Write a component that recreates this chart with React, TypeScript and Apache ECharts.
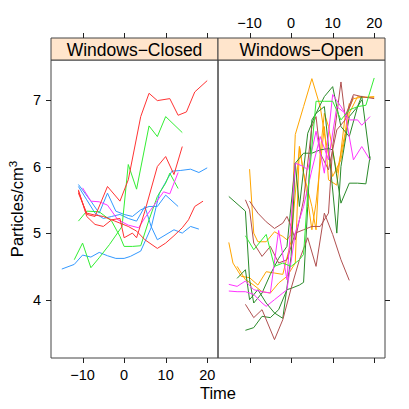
import React, { useEffect, useRef } from "react";
import * as echarts from "echarts";

// ---- tick labels / categories ----
const xTicks = [-10, 0, 10, 20];
const yTicks = [4, 5, 6, 7];
const panels = ["Windows\u2212Closed", "Windows\u2212Open"];

// ---- Windows-Closed panel series: [time, particles] ----
const closedBlue1: [number, number][] = [[-15,4.46],[-12,4.53],[-10,4.67],[-8,4.64],[-6,4.71],[-4,4.66],[-2,4.62],[0,4.62],[1.5,4.65],[4,4.73],[6.5,5.08],[8.5,5.6],[11.5,5.93],[13.5,5.94],[16,5.96],[18,5.91],[20,5.98]];
const closedBlue2: [number, number][] = [[-11,5.73],[-8,5.48],[-6,5.3],[-4,5.6],[-2,5.33],[0,5.28],[2,5.25],[4,5.35],[6,5.4],[8,5.4],[10,5.57],[13,5.4]];
const closedBlue3: [number, number][] = [[-11,5.7],[-9,5.5],[-7,5.3],[-5,5.22],[-3,5.25],[-1,5.28],[1,5.22],[3,5.18],[5,5.4],[6.5,5.1],[8,4.9],[12,5.05],[14,5.0],[16,5.1],[18,5.06]];
const closedGreen1: [number, number][] = [[-11,5.18],[-9,5.33],[-6,5.32],[-3,5.18],[-1,4.95],[0,4.8],[2,4.8],[4,4.81],[6,5.2],[8,5.55],[10,5.75],[11,5.9],[13,5.67]];
const closedGreen2: [number, number][] = [[-12,4.6],[-10,4.85],[-8,4.48],[-6,4.63],[-3.5,4.83],[-0.5,5.1],[1,6.03],[3,5.66],[6,6.61],[8,6.45],[10,6.75],[14,6.51]];
const closedMagenta1: [number, number][] = [[-10,5.68],[-8,5.48],[-6,5.47],[-4,5.42],[-1.5,5.2],[1,5.12],[3.5,5.08],[5,5.23],[7,5.4],[9.5,5.62],[11,5.59],[13,5.91]];
const closedRed1: [number, number][] = [[-11,5.63],[-9,5.28],[-7,5.25],[-4,5.7],[-1,5.48],[1,5.8],[4,6.75],[6,7.1],[8,6.99],[11,7.02],[13,6.77],[15,6.82],[17,7.12],[20,7.29]];
const closedRed2: [number, number][] = [[-11,5.65],[-9,5.25],[-7,5.13],[-5,5.1],[-3,5.2],[-1,5.22],[0,4.93],[2,5.0],[3,4.93],[5,5.33],[8,6.0],[10,6.15],[12,5.88],[14,6.3]];
const closedRed3: [number, number][] = [[-11,5.6],[-9,5.3],[-7,5.27],[-5,5.25],[-3,5.2],[-1,5.15],[1,5.1],[3,5.03],[5,4.9],[8,4.77],[10,4.85],[12,4.96],[14,5.08],[15.5,5.2],[17,5.4],[19,5.48]];

// ---- Windows-Open panel series ----
const openOrange1: [number, number][] = [[-15,4.86],[-14,4.55],[-12,4.35],[-10,4.33],[-8,4.22],[-6,4.42],[-4,4.4],[-2,4.38],[0,4.88],[2,6.3],[4,5.5],[5,5.05],[6,5.45],[8,6.6],[9,5.8],[11,5.72],[13,6.75],[15,7.02],[17,7.04],[20,7.04]];
const openOrange2: [number, number][] = [[-10,5.96],[-9,5.0],[-8,4.87],[-6,4.87],[-4,5.02],[-2,4.95],[-1,4.9],[0,4.98],[1,6.48],[3,6.9],[5,7.32],[7,6.9],[8,6.5],[10,5.85],[12,6.1],[14,6.8],[16,7.05],[18,7.04],[20,7.05]];
const openOrange3: [number, number][] = [[-13,4.5],[-11,4.3],[-9,4.22],[-7,4.12],[-5,4.1],[-3,4.25],[-1,4.35],[1,4.55],[2,6.3],[3,5.9],[4,5.65],[5,5.4],[6,5.05],[7,6.2],[8,6.8],[9,6.6],[11,5.9],[13,6.5],[14,6.95]];
const openDarkGreen1: [number, number][] = [[-15,5.55],[-11,5.33],[-10,4.3],[-9,3.95],[-7,4.1],[-5,4.38],[-3,4.62],[-1,4.8],[1,6.05],[3,6.2],[5,6.2],[7,6.25],[9,6.27],[10,6.25],[12,5.45],[14,5.75],[16,5.75],[18,5.74],[19,6.15]];
const openDarkGreen2: [number, number][] = [[-11,3.54],[-9,3.58],[-7,3.75],[-5,3.73],[-3,3.85],[-1,4.15],[0,4.17],[2,4.22],[3,4.26],[4,5.4],[5,6.7],[6,6.8],[8,7.05],[10,7.2],[12,6.6],[14,6.45],[16,6.9],[17,7.06],[19,6.1]];
const openDarkGreen3: [number, number][] = [[-13,4.32],[-11,4.45],[-10,4.0],[-8,4.15],[-6,3.95],[-4,3.8],[-2,3.72],[0,4.65],[1,6.05],[2,5.4],[4,6.5],[6,6.8],[8,6.9],[9,6.3],[11,5.0],[12,6.0],[14,6.75],[16,6.9],[17,7.0]];
const openBrown1: [number, number][] = [[-11,5.5],[-10,5.35],[-9,4.85],[-7,4.65],[-5,4.8],[-3,4.55],[-1,4.6],[1,5.0],[3,5.05],[5,5.1],[7,5.1],[9,5.3],[10,6.3],[12,7.27],[13,6.75],[15,7.08],[17,7.05],[20,7.02]];
const openBrown2: [number, number][] = [[-10,5.48],[-8,5.3],[-6,5.17],[-4,5.07],[-2,5.15],[-1,5.25],[0,5.1],[1,4.9],[3,5.5],[5,6.6],[6,6.75],[7,6.2],[9,5.95],[11,6.55],[13,6.7],[15,7.05]];
const openBrown3: [number, number][] = [[-11,3.93],[-9,3.73],[-7,3.85],[-4,3.4],[-2,3.7],[0,4.17],[2,4.6],[4,4.93],[6,4.5],[8,5.3],[10,4.98],[12,4.6],[14,4.29]];
const openMagenta1: [number, number][] = [[-15,4.23],[-13,4.2],[-11,4.28],[-9,4.15],[-7,4.12],[-5,4.1],[-3,5.04],[-1,4.3],[1,6.05],[3,6.0],[4,5.95],[6,6.53],[8,5.9],[10,7.08],[12,6.9],[14,6.7],[16,6.7],[17,6.62],[19,6.75]];
const openMagenta2: [number, number][] = [[-15,4.13],[-13,4.12],[-11,4.12],[-9,4.08],[-7,3.95],[-6,3.9],[-4,4.0],[-2,4.1],[-1,4.15],[1,5.0],[3,5.4],[5,5.95],[7,6.45],[9,6.1],[11,6.9],[13,6.8],[15,6.1],[17,6.3],[19,6.1]];
const openGreen1: [number, number][] = [[-11,4.96],[-9,4.75],[-6,4.98],[-4,4.5],[-2,4.55],[0,4.5],[2,4.6],[3,4.68],[4,5.6],[6,6.98],[8,6.98],[10,6.98],[12,6.7],[14,6.85],[16,6.9],[18,6.92],[20,7.33]];

const C = {
  blue: "#3399FF",
  red: "#FF3333",
  green: "#33EE33",
  magenta: "#FF33FF",
  orange: "#FFA500",
  darkgreen: "#2A8A2A",
  brown: "#B05050",
};

const closedSeries: [ [number, number][], string ][] = [
  [closedBlue1, C.blue], [closedBlue2, C.blue], [closedBlue3, C.blue],
  [closedGreen1, C.green], [closedGreen2, C.green],
  [closedMagenta1, C.magenta],
  [closedRed1, C.red], [closedRed2, C.red], [closedRed3, C.red],
];
const openSeries: [ [number, number][], string ][] = [
  [openOrange1, C.orange], [openOrange2, C.orange], [openOrange3, C.orange],
  [openDarkGreen1, C.darkgreen], [openDarkGreen2, C.darkgreen], [openDarkGreen3, C.darkgreen],
  [openBrown1, C.brown], [openBrown2, C.brown], [openBrown3, C.brown],
  [openMagenta1, C.magenta], [openMagenta2, C.magenta],
  [openGreen1, C.green],
];

const FONT = "'Liberation Sans', Arial, Helvetica, sans-serif";
const X_MIN = -17.6, X_MAX = 22.6, Y_MIN = 3.124, Y_MAX = 7.6;
const PL = 51, PT = 60, PW = 167, PH = 298, STRIP = 22;
const BORDER = "#444";
const TICK = "#222";
const TICK_LEN = 5;

const fmtNum = (v: number) => String(v).replace("-", "\u2212");
const crisp = (v: number) => Math.round(v) + 0.5;

// tick-mark series drawn through the axes' own scales
type TickSide = "bottom" | "top" | "left" | "right";
function tickSeries(xIdx: number, yIdx: number, side: TickSide, values: number[]) {
  const data = values.map((v) =>
    side === "bottom" ? [v, Y_MIN] : side === "top" ? [v, Y_MAX] : side === "left" ? [X_MIN, v] : [X_MAX, v]
  );
  return {
    type: "custom",
    xAxisIndex: xIdx,
    yAxisIndex: yIdx,
    clip: false,
    silent: true,
    z: 10,
    data,
    renderItem: (_p: any, api: any) => {
      const pt = api.coord([api.value(0), api.value(1)]);
      let shape: any;
      if (side === "bottom") {
        const x = crisp(pt[0]);
        shape = { x1: x, y1: pt[1], x2: x, y2: pt[1] + TICK_LEN };
      } else if (side === "top") {
        const x = crisp(pt[0]);
        const y0 = pt[1] - STRIP;
        shape = { x1: x, y1: y0, x2: x, y2: y0 - TICK_LEN };
      } else if (side === "left") {
        const y = crisp(pt[1]);
        shape = { x1: pt[0], y1: y, x2: pt[0] - TICK_LEN, y2: y };
      } else {
        const y = crisp(pt[1]);
        shape = { x1: pt[0], y1: y, x2: pt[0] + TICK_LEN, y2: y };
      }
      return { type: "line", shape, style: { stroke: TICK, lineWidth: 1 } };
    },
  };
}

export default function App() {
  const ref = useRef<HTMLDivElement>(null);
  useEffect(() => {
    if (!ref.current) return;
    const chart = echarts.init(ref.current, undefined, { renderer: "svg" });
    const labelStyle = { color: "#000", fontSize: 14.5, fontFamily: FONT };
    const xAx = (grid: number, pos: "top" | "bottom", labels: boolean, offset: number) => ({
      type: "value", gridIndex: grid, position: pos, offset, min: X_MIN, max: X_MAX,
      axisLine: { show: false, onZero: false }, splitLine: { show: false },
      axisTick: { show: false },
      axisLabel: labels
        ? { show: true, customValues: xTicks, formatter: (v: number) => fmtNum(v), margin: pos === "top" ? 8 : 9, ...labelStyle }
        : { show: false },
    });
    const series: any[] = [];
    closedSeries.forEach(([d, c]) => series.push({ type: "line", xAxisIndex: 0, yAxisIndex: 0, data: d, showSymbol: false, symbol: "none", lineStyle: { color: c, width: 1 } }));
    openSeries.forEach(([d, c]) => series.push({ type: "line", xAxisIndex: 2, yAxisIndex: 1, data: d, showSymbol: false, symbol: "none", lineStyle: { color: c, width: 1 } }));
    series.push(tickSeries(0, 0, "bottom", xTicks));
    series.push(tickSeries(0, 0, "top", xTicks));
    series.push(tickSeries(0, 0, "left", yTicks));
    series.push(tickSeries(2, 1, "bottom", xTicks));
    series.push(tickSeries(2, 1, "top", xTicks));
    series.push(tickSeries(2, 1, "right", yTicks));
    const stripGraphics: any[] = panels.map((p, i) => ({
      type: "group",
      children: [
        { type: "rect", shape: { x: PL + i * PW, y: PT - STRIP, width: PW, height: STRIP }, style: { fill: "#FFE5CC", stroke: BORDER, lineWidth: 1 } },
        { type: "text", x: PL + i * PW + PW / 2, y: PT - STRIP / 2 + 1, style: { text: p, fill: "#000", fontSize: 17.5, fontFamily: FONT, align: "center", verticalAlign: "middle" } },
      ],
    }));
    chart.setOption({
      animation: false,
      grid: [
        { left: PL, top: PT, width: PW, height: PH, show: true, borderColor: BORDER },
        { left: PL + PW, top: PT, width: PW, height: PH, show: true, borderColor: BORDER },
      ],
      xAxis: [
        xAx(0, "bottom", true, 0),
        xAx(0, "top", false, STRIP),
        xAx(1, "top", true, STRIP),
        xAx(1, "bottom", false, 0),
      ],
      yAxis: [
        {
          type: "value", gridIndex: 0, min: Y_MIN, max: Y_MAX,
          axisLine: { show: false, onZero: false }, splitLine: { show: false }, axisTick: { show: false },
          axisLabel: { customValues: yTicks, margin: 10, ...labelStyle },
        },
        {
          type: "value", gridIndex: 1, position: "right", min: Y_MIN, max: Y_MAX,
          axisLine: { show: false, onZero: false }, splitLine: { show: false }, axisTick: { show: false },
          axisLabel: { show: false },
        },
      ],
      graphic: [
        ...stripGraphics,
        {
          type: "text", x: 17, y: PT + PH / 2, rotation: Math.PI / 2,
          style: {
            text: "Particles/cm{sup|3}", fill: "#000", fontSize: 16.5, fontFamily: FONT, align: "center", verticalAlign: "middle",
            rich: { sup: { fontSize: 11.5, fontFamily: FONT, fill: "#000", verticalAlign: "top", padding: [0, 0, 9, 0] } },
          },
        },
        { type: "text", x: PL + PW, y: 393, style: { text: "Time", fill: "#000", fontSize: 16.5, fontFamily: FONT, align: "center", verticalAlign: "middle" } },
      ],
      series,
    });
    return () => chart.dispose();
  }, []);
  return <div ref={ref} style={{ width: 409, height: 409, position: "absolute", left: 0, top: 0 }} />;
}
